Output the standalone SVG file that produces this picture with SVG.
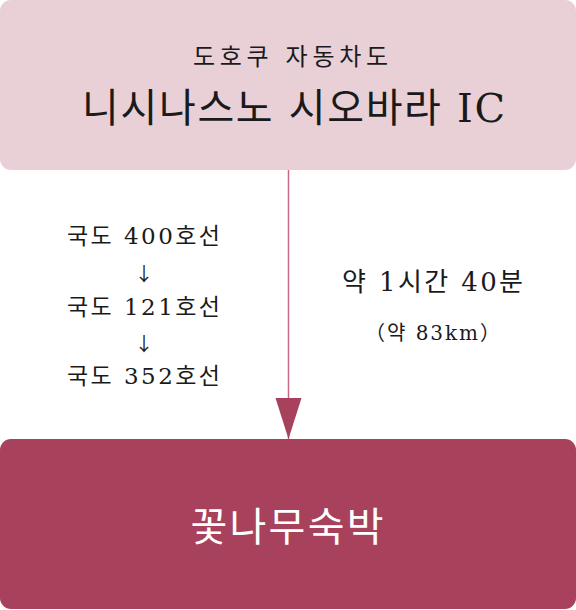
<svg xmlns="http://www.w3.org/2000/svg" width="576" height="610" viewBox="0 0 576 610">
<style>
text{font-family:"DejaVu Serif","Noto Sans CJK KR",serif;text-anchor:middle;fill:#1a1a1a}
.w{fill:#ffffff}
.arr{font-family:"Noto Sans CJK KR",sans-serif;font-size:19px}
</style>
<defs>
<marker id="ah" markerUnits="userSpaceOnUse" markerWidth="42" markerHeight="28" refX="41" refY="14" orient="auto" viewBox="0 0 42 28">
<path d="M0,1 L41,14 L0,27 Z" fill="#a8415b"/>
</marker>
</defs>
<g id="connectors">
<line x1="288.5" y1="170" x2="288.5" y2="439" stroke="#c96a85" stroke-width="1.5" marker-end="url(#ah)"/>
</g>
<g id="start">
<rect x="0" y="0" width="576" height="170" rx="11" fill="#e9d0d6"/>
<text x="290.5" y="65" font-size="24" textLength="195" lengthAdjust="spacing">도호쿠 자동차도</text>
<text x="293.5" y="122" font-size="40" textLength="423" lengthAdjust="spacing">니시나스노 시오바라 IC</text>
</g>
<g id="route">
<text x="143.5" y="244" font-size="23" textLength="153" lengthAdjust="spacing">국도 400호선</text>
<text class="arr" x="144" y="281">↓</text>
<text x="143.5" y="315" font-size="23" textLength="153" lengthAdjust="spacing">국도 121호선</text>
<text class="arr" x="144" y="351">↓</text>
<text x="143.5" y="384" font-size="23" textLength="153" lengthAdjust="spacing">국도 352호선</text>
</g>
<g id="time">
<text x="432.5" y="291" font-size="26" textLength="181" lengthAdjust="spacing">약 1시간 40분</text>
<text x="432.5" y="340" font-size="20" textLength="135" lengthAdjust="spacing">（약 83km）</text>
</g>
<g id="end">
<rect x="0" y="439" width="576" height="170" rx="11" fill="#a8415b"/>
<text class="w" x="287" y="541" font-size="40" textLength="193" lengthAdjust="spacing">꽃나무숙박</text>
</g>
</svg>
